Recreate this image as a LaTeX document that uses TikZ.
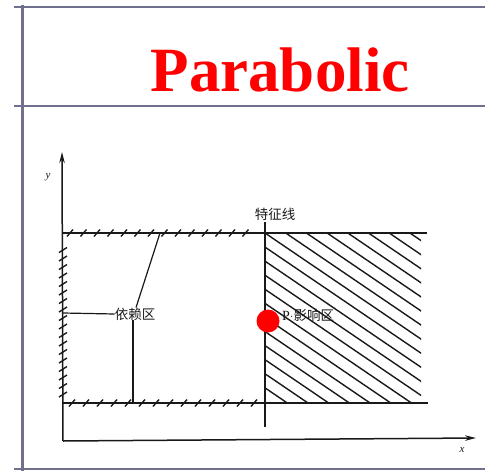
\documentclass[tikz,border=0pt]{standalone}
\usepackage{fontspec}
\setmainfont{Liberation Serif}
\newfontfamily\titlefont{Liberation Serif Bold}
\newfontfamily\cjk{Noto Sans CJK SC}
\usetikzlibrary{arrows.meta}
\definecolor{framec}{RGB}{112,112,142}
\definecolor{inkc}{RGB}{25,25,25}
\tikzset{
  frameline/.style={draw=framec, line width=2.4pt},
  axisline/.style={draw=inkc, line width=1.5pt, -{Stealth[length=11pt,width=5.5pt]}},
  bound/.style={draw=inkc, line width=1.9pt},
  tick/.style={draw=inkc, line width=1.4pt},
  hatchline/.style={draw=inkc, line width=1.4pt},
  leader/.style={draw=inkc, line width=1.2pt},
  cjklabel/.style={text=inkc, font=\cjk\fontsize{13.5}{13.5}\selectfont, inner sep=0pt},
}
\begin{document}
\begin{tikzpicture}[x=1pt,y=-1pt]
\useasboundingbox (0,0) rectangle (485,472);
% slide frame
\draw[frameline] (14,7) -- (485,7);
\draw[frameline] (14,106) -- (485,106);
\draw[frameline] (14,469) -- (485,469);
\draw[frameline] (22.5,5) -- (22.5,471);
% title
\node[text=red, font=\titlefont\fontsize{63}{63}\selectfont, anchor=base] (title) at (280,91) {Parabolic};
% axes
\coordinate (O) at (63,441);
\coordinate (ytop) at (62,152);
\coordinate (xend) at (476,438);
\draw[axisline] (O) -- (ytop);
\draw[axisline] (O) -- (xend);
\node[text=inkc, font=\itshape\fontsize{11}{11}\selectfont] (ylab) at (48,177) {y};
\node[text=inkc, font=\itshape\fontsize{11}{11}\selectfont] (xlab) at (462,450) {x};
% hatched influence zone
\begin{scope}
\clip (265,233) rectangle (421,403);
\foreach \k in {-13,...,8}
  \draw[hatchline] ({265+\k*20.7},233) -- ++(250,170);
\end{scope}
% boundaries
\coordinate (tl) at (63,233);
\coordinate (tr) at (427,233);
\coordinate (bl) at (63,403);
\coordinate (br) at (428,403);
\draw[bound] (tl) -- (tr);
\draw[bound] (bl) -- (br);
\coordinate (ctop) at (265,222);
\coordinate (cbot) at (265,427);
\draw[bound] (ctop) -- (cbot);
% ticks on dependence zone boundaries
\foreach \x in {70,83.5,...,258} \draw[tick] (\x-3,236.5) -- (\x+3,229.5);
\foreach \x in {72,86,...,258} \draw[tick] (\x-3,406.5) -- (\x+3,399.5);
\foreach \y in {250,258.5,...,398} \draw[tick] (59,\y+2.5) -- (67,\y-2.5);
% labels
\node[cjklabel] (char) at (275,214) {特征线};
\node[cjklabel] (dep) at (135,314) {依赖区};
\node[text=inkc, inner sep=0pt, anchor=west] (infl) at (282,315) {\fontsize{14}{14}\selectfont P{\fontsize{11}{11}\selectfont·}{\cjk\fontsize{13.5}{13.5}\selectfont 影响区}};
% leaders
\coordinate (lL) at (63,313);
\coordinate (lT) at (160,233);
\coordinate (lB) at (133,403);
\draw[leader] (lL) -- (dep.west);
\draw[leader] (lT) -- ([xshift=1pt]dep.north);
\draw[leader] ([xshift=-2pt]dep.south) -- (lB);
% point P
\fill[red] (268,321) circle (11.5) node (P) {};
\end{tikzpicture}
\end{document}
